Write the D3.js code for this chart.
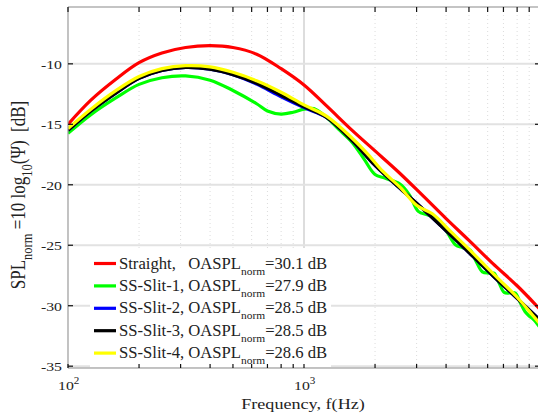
<!DOCTYPE html>
<html><head><meta charset="utf-8">
<script src="https://cdn.jsdelivr.net/npm/d3@7"></script>
<style>
html,body{margin:0;padding:0;background:#fff;}
svg text{font-family:"Liberation Serif","Times New Roman",Times,serif;white-space:pre;}
</style></head>
<body>
<svg id="chart" width="538" height="418"></svg>
<script>
// ---- data ----
const freqSmooth = [100,125,160,200,250,315,400,500,630,800,1000,1250,1600,2000,2500,3150,4000,5000,6300,8000,10000];
const splStraight = [-15.0,-13.0,-11.25,-9.9,-9.1,-8.65,-8.5,-8.65,-9.2,-10.4,-11.75,-13.5,-15.5,-17.2,-18.9,-20.8,-22.8,-24.6,-26.5,-28.35,-30.3];
const splSlit2 = [-15.5,-13.9,-12.4,-11.2,-10.55,-10.3,-10.45,-10.9,-11.68,-12.72,-13.62,-14.45,-16.35,-18.4,-20.15,-21.9,-23.8,-25.6,-27.5,-29.4,-31.2];
const splSlit3 = [-15.5,-13.9,-12.4,-11.2,-10.55,-10.3,-10.45,-10.9,-11.6,-12.6,-13.55,-14.45,-16.35,-18.4,-20.15,-21.9,-23.8,-25.6,-27.5,-29.4,-31.2];
const freqSlit4 = [100,125,160,200,250,315,400,500,630,800,1000,1250,1600,1850,2160,2550,3000,3500,4200,4900,5800,6770,8000,9000,10000];
const splSlit4 = [-15.35,-13.75,-12.2,-11.05,-10.4,-10.15,-10.25,-10.7,-11.4,-12.35,-13.4,-14.35,-16.15,-17.4,-18.9,-20.2,-21.7,-22.4,-23.9,-25.15,-26.6,-27.9,-29.3,-30.45,-31.5];
const freqSlit1 = [100,125,160,200,250,315,400,500,630,700,800,900,1000,1100,1250,1400,1600,1800,2000,2200,2550,2800,3050,3350,3700,4050,4380,4700,5050,5350,5700,6050,6380,6700,7050,7450,7850,8250,8650,9000,9400,10000];
const splSlit1 = [-15.75,-14.2,-12.8,-11.7,-11.15,-11.0,-11.35,-12.2,-13.3,-13.9,-14.15,-14.0,-13.75,-13.7,-14.45,-15.4,-16.5,-17.9,-19.15,-19.45,-19.95,-20.85,-22.2,-22.5,-22.85,-23.95,-24.95,-25.2,-25.4,-26.3,-27.2,-27.3,-27.3,-28.1,-28.9,-28.95,-28.95,-29.75,-30.5,-30.85,-31.15,-31.8];
const seriesNames = ["Straight","SS-Slit-1","SS-Slit-2","SS-Slit-3","SS-Slit-4"];
const seriesColors = ["#ff0000","#00ff00","#0000ff","#000000","#ffff00"];
const oaspl = ["30.1","27.9","28.5","28.5","28.6"];
const yTicks = [-10,-15,-20,-25,-30,-35];
const xMajor = [100,1000,10000];
const xTickLabels = ["2","3"];

// ---- layout ----
const L = 68, R = 540, T = 7, B = 368, SX = 1.17;
const svg = d3.select("#chart");
const x = d3.scaleLog().domain([100,10000]).range([L,R]);
const y = d3.scaleLinear().domain([-35.15,-5.3]).range([B,T]);

svg.append("rect").attr("width",538).attr("height",418).attr("fill","#fff");

const xMinor = [];
[100,1000].forEach(d=>{for(let k=2;k<=9;k++) xMinor.push(d*k);});

// grid
const grid = svg.append("g");
grid.selectAll(".vmin").data(xMinor).join("line")
  .attr("x1",d=>x(d)).attr("x2",d=>x(d)).attr("y1",T).attr("y2",B)
  .attr("stroke","#dcdcdc").attr("stroke-width",1).attr("stroke-dasharray","1,3");
grid.append("line").attr("x1",x(1000)).attr("x2",x(1000)).attr("y1",T).attr("y2",B)
  .attr("stroke","#d2d2d2").attr("stroke-width",1.5);
grid.selectAll(".hmaj").data(yTicks).join("line")
  .attr("x1",L).attr("x2",R).attr("y1",d=>y(d)).attr("y2",d=>y(d))
  .attr("stroke","#e2e2e2").attr("stroke-width",2);

// curves
svg.append("clipPath").attr("id","clip").append("rect").attr("x",L).attr("y",T).attr("width",R-L).attr("height",B-T);
const line = d3.line().x(d=>x(d[0])).y(d=>y(d[1])).curve(d3.curveCatmullRom.alpha(0.5));
const seriesData = [
  d3.zip(freqSmooth, splStraight),
  d3.zip(freqSlit1, splSlit1),
  d3.zip(freqSmooth, splSlit2),
  d3.zip(freqSmooth, splSlit3),
  d3.zip(freqSlit4, splSlit4)
];
const curves = svg.append("g").attr("clip-path","url(#clip)");
curves.selectAll("path").data(seriesData).join("path")
  .attr("d",line).attr("fill","none")
  .attr("stroke",(d,i)=>seriesColors[i]).attr("stroke-width",3.2)
  .attr("stroke-linejoin","round");

// legend
const LSX = 1.04;
const lg = svg.append("g");
lg.append("rect").attr("x",90).attr("y",248).attr("width",241).attr("height",119).attr("fill","#fff");
seriesNames.forEach((nm,i)=>{
  const cy = 263.5 + i*22.4;
  lg.append("line").attr("x1",94).attr("x2",116).attr("y1",cy).attr("y2",cy)
    .attr("stroke",seriesColors[i]).attr("stroke-width",3.2);
  const t = lg.append("text").attr("transform",`translate(119,${cy+5}) scale(${LSX},1)`)
    .attr("font-size",16).attr("fill","#222");
  const label = (i===0 ? nm+",   " : nm+", ") + "OASPL";
  t.append("tspan").text(label);
  t.append("tspan").attr("font-size",11).attr("dy",6).text("norm");
  t.append("tspan").attr("dy",-6).text("="+oaspl[i]+" dB");
});

// axes lines
svg.append("line").attr("x1",L).attr("x2",R).attr("y1",T).attr("y2",T).attr("stroke","#c4c4c4").attr("stroke-width",2.2);
svg.append("line").attr("x1",L).attr("x2",R).attr("y1",B).attr("y2",B).attr("stroke","#8a8a8a").attr("stroke-width",1.2);
svg.append("line").attr("x1",L).attr("x2",L).attr("y1",T).attr("y2",B).attr("stroke","#9a9a9a").attr("stroke-width",1.2);

// ticks
const tk = svg.append("g").attr("stroke","#111").attr("stroke-width",1.2);
yTicks.forEach(v=>{
  tk.append("line").attr("x1",L).attr("x2",L+5).attr("y1",y(v)).attr("y2",y(v));
  tk.append("line").attr("x1",R-5).attr("x2",R).attr("y1",y(v)).attr("y2",y(v));
});
xMajor.concat(xMinor).forEach(v=>{
  tk.append("line").attr("x1",x(v)).attr("x2",x(v)).attr("y1",B).attr("y2",B-4);
  tk.append("line").attr("x1",x(v)).attr("x2",x(v)).attr("y1",T).attr("y2",T+5);
});

// tick labels
yTicks.forEach(v=>{
  svg.append("text").attr("transform",`translate(62,${y(v)+4.8}) scale(${SX},1)`)
    .attr("text-anchor","end").attr("font-size",13.5).attr("fill","#222").text(v);
});
xTickLabels.forEach((lab,i)=>{
  const t = svg.append("text").attr("transform",`translate(${x(xMajor[i])-10},390) scale(${SX},1)`)
    .attr("font-size",13.5).attr("fill","#222");
  t.append("tspan").text("10");
  t.append("tspan").attr("font-size",9.5).attr("dy",-6).text(lab);
});

// axis labels
svg.append("text").attr("transform",`translate(${(L+R)/2-1},409) scale(${SX},1)`)
  .attr("text-anchor","middle").attr("font-size",15.5).attr("fill","#222").text("Frequency, f(Hz)");

const yl = svg.append("text").attr("transform",`translate(25,195) scale(${SX},1) rotate(-90)`)
  .attr("text-anchor","middle").attr("font-size",17).attr("fill","#222");
yl.append("tspan").text("SPL");
yl.append("tspan").attr("font-size",12.5).attr("dy",6).text("norm");
yl.append("tspan").attr("dy",-6).text(" =10 log");
yl.append("tspan").attr("font-size",12.5).attr("dy",6).text("10");
yl.append("tspan").attr("dy",-6).text("(\u03A8)  [dB]");
</script>
</body></html>
